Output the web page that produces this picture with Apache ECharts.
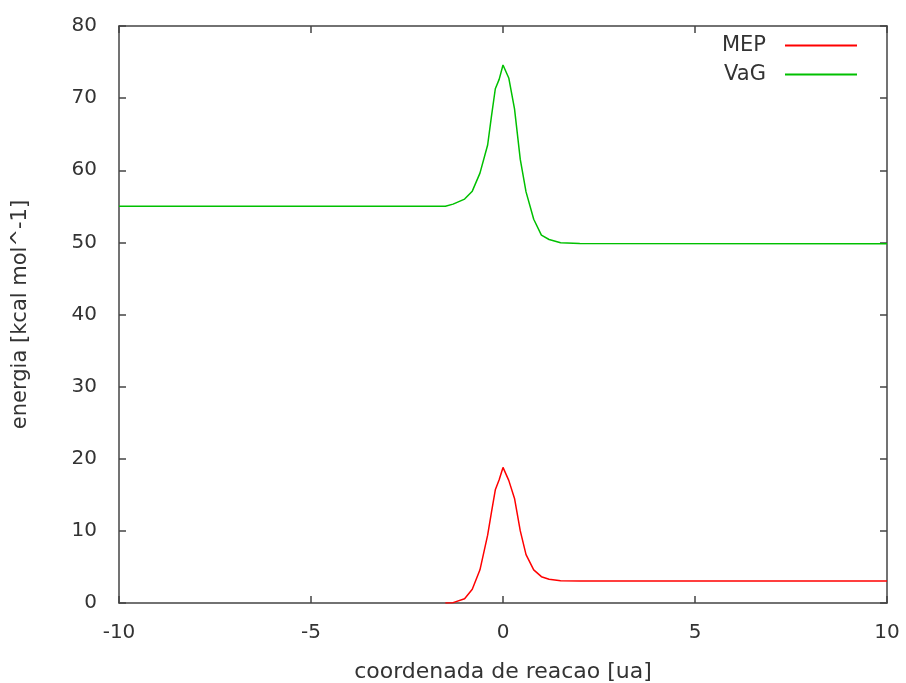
<!DOCTYPE html>
<html>
<head>
<meta charset="utf-8">
<script src="https://cdn.jsdelivr.net/npm/echarts@6/dist/echarts.min.js"></script>
<style>html,body{margin:0;padding:0;background:#fff}#c{width:906px;height:683px}</style>
</head>
<body>
<div id="c"></div>
<script>
const xCoord = [-10, -1.5, -1.3, -1.0, -0.8, -0.6, -0.4, -0.3, -0.2, -0.1, 0, 0.15, 0.3, 0.45, 0.6, 0.8, 1.0, 1.2, 1.5, 2.0, 10];
const mepValues = [null, 0, 0.05, 0.6, 1.9, 4.6, 9.4, 12.6, 15.7, 17.1, 18.8, 17.0, 14.5, 10.0, 6.7, 4.6, 3.65, 3.3, 3.1, 3.05, 3.05];
const vagValues = [55.0, 55.0, 55.3, 56.0, 57.1, 59.6, 63.5, 67.5, 71.3, 72.6, 74.6, 72.8, 68.5, 61.5, 57.0, 53.2, 51.0, 50.4, 49.95, 49.85, 49.8];
const seriesNames = ['MEP', 'VaG'];
const xTicks = [-10, -5, 0, 5, 10];
const yTicks = [0, 10, 20, 30, 40, 50, 60, 70, 80];

const FONT = 'DejaVu Sans';
const lineCol = '#444';
const txtCol = '#333';
const pair = (vals) => xCoord.map((x, i) => [x, vals[i]]);

const chart = echarts.init(document.getElementById('c'), null, {renderer: 'canvas'});
const baseX = {type: 'value', min: xTicks[0], max: xTicks[xTicks.length - 1], interval: 5,
  axisLine: {show: true, onZero: false, lineStyle: {color: lineCol, width: 1.5}},
  axisTick: {show: true, inside: true, length: 7, lineStyle: {color: lineCol, width: 1.5}},
  splitLine: {show: false}};
const baseY = {type: 'value', min: yTicks[0], max: yTicks[yTicks.length - 1], interval: 10,
  axisLine: {show: true, onZero: false, lineStyle: {color: lineCol, width: 1.5}},
  axisTick: {show: true, inside: true, length: 7, lineStyle: {color: lineCol, width: 1.5}},
  splitLine: {show: false}};

chart.setOption({
  animation: false,
  backgroundColor: '#fff',
  grid: {left: 119, right: 19, top: 26, bottom: 80, containLabel: false, outerBoundsMode: 'none'},
  legend: {
    orient: 'vertical', align: 'right', right: 44, top: 30,
    itemWidth: 72, itemHeight: 2, itemGap: 8, icon: 'rect',
    data: seriesNames,
    textStyle: {fontFamily: FONT, fontSize: 21, color: txtCol, lineHeight: 20, padding: [0, 14, 0, 0]}
  },
  xAxis: [
    Object.assign({}, baseX, {position: 'bottom',
      name: 'coordenada de reacao [ua]', nameLocation: 'middle', nameGap: 58,
      nameTextStyle: {fontFamily: FONT, fontSize: 22, color: txtCol},
      axisLabel: {show: true, margin: 20, fontFamily: FONT, fontSize: 20, color: txtCol,
        formatter: v => String(v)}}),
    Object.assign({}, baseX, {position: 'top', axisLabel: {show: false}})
  ],
  yAxis: [
    Object.assign({}, baseY, {position: 'left',
      name: 'energia [kcal mol^-1]', nameLocation: 'middle', nameGap: 88, nameRotate: 90,
      nameTextStyle: {fontFamily: FONT, fontSize: 21, color: txtCol},
      axisLabel: {show: true, margin: 22, fontFamily: FONT, fontSize: 20, color: txtCol}}),
    Object.assign({}, baseY, {position: 'right', axisLabel: {show: false}})
  ],
  series: [
    {name: seriesNames[0], type: 'line', data: pair(mepValues), showSymbol: false, symbol: 'none',
      color: '#ff0000', lineStyle: {color: '#ff0000', width: 1.5}, connectNulls: false, z: 3},
    {name: seriesNames[1], type: 'line', data: pair(vagValues), showSymbol: false, symbol: 'none',
      color: '#00c000', lineStyle: {color: '#00c000', width: 1.5}, z: 3}
  ]
});
</script>
</body>
</html>
